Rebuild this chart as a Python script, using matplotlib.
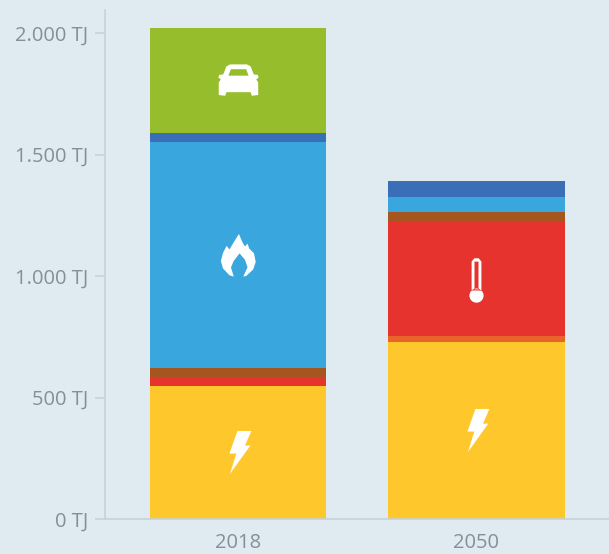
import numpy as np
import matplotlib
matplotlib.use('Agg')
import matplotlib.pyplot as plt
from matplotlib.path import Path
from matplotlib.ticker import FuncFormatter

years = ['2018', '2050']
strom = [547, 728]
uebergang = [0, 25]
waerme = [37, 469]
braun = [37, 41]
gas = [930, 62]
dunkelblau = [37, 66]
verkehr = [432, 0]

series = [strom, uebergang, waerme, braun, gas, dunkelblau, verkehr]
colors = ['#fec82c', '#e8642a', '#e6332e', '#a5561e', '#3aa6de', '#3a6fb8', '#95bd2c']

bg = '#dfeaf1'
text_col = '#848f98'
axis_col = '#c5d2dc'

plt.rcParams['font.family'] = 'Open Sans'


def circle(cx, cy, r, n=24, clockwise=False):
    t = np.linspace(0, 2 * np.pi, n)
    if clockwise:
        t = t[::-1]
    return list(zip(cx + r * np.cos(t), cy + r * np.sin(t)))


def make_path(polys):
    verts = []
    codes = []
    for p in polys:
        verts.extend(p)
        verts.append(p[0])
        codes.extend([Path.MOVETO] + [Path.LINETO] * (len(p) - 1) + [Path.CLOSEPOLY])
    return Path(verts, codes)


# icons, drawn as custom markers
bolt = make_path([[(-0.05, 1), (0.6, 1), (0.3, 0.32), (0.55, 0.32), (-0.4, -1),
                   (-0.1, -0.05), (-0.42, -0.05)]])

flame = make_path([[(0.02, 1), (0.18, 0.62), (0.3, 0.42), (0.42, 0.55), (0.5, 0.32), (0.72, 0.1),
                    (0.8, -0.3), (0.68, -0.65), (0.36, -0.95), (0.22, -0.98), (0.42, -0.55),
                    (0.3, -0.2), (0.05, 0.1), (-0.22, -0.25), (-0.35, -0.55), (-0.22, -0.98),
                    (-0.42, -0.92), (-0.72, -0.6), (-0.82, -0.25), (-0.72, 0.12), (-0.55, 0.45),
                    (-0.42, 0.28), (-0.22, 0.62)]])

car = make_path([
    [(-0.6, 0.7), (-0.42, 0.8), (0.42, 0.8), (0.6, 0.7), (0.76, 0.3), (0.96, 0.28), (1, 0.14), (0.88, 0.06),
     (0.98, -0.1), (0.98, -0.72), (0.66, -0.76), (0.6, -0.58), (-0.6, -0.58), (-0.66, -0.76),
     (-0.98, -0.72), (-0.98, -0.1), (-0.88, 0.06), (-1, 0.14), (-0.96, 0.28), (-0.76, 0.3)],
    [(-0.5, 0.24), (0.5, 0.24), (0.38, 0.56), (-0.38, 0.56)],
    circle(-0.62, -0.16, 0.15, clockwise=True),
    circle(0.62, -0.16, 0.15, clockwise=True),
])

thermo = make_path([
    circle(0, -0.68, 0.32),
    [(-0.22, -0.45), (-0.22, 0.85), (-0.1, 1), (0.1, 1), (0.22, 0.85), (0.22, -0.45)],
    [(-0.09, -0.4), (0.09, -0.4), (0.09, 0.85), (-0.09, 0.85)],
])

icon_x = [0, 0, 0, 1, 1]
icon_y = [276, 1085, 1805, 985, 366]
icon_paths = [bolt, flame, car, thermo, bolt]
icon_sizes = [31, 31, 29, 32, 31]

fig = plt.figure(figsize=(6.09, 5.54), dpi=100, facecolor=bg)
ax = fig.add_axes([105 / 609, 35 / 554, 504 / 609, 509 / 554], facecolor=bg)

x = np.arange(len(years))
bottom = np.zeros(len(years))
for values, color in zip(series, colors):
    ax.bar(x, values, width=0.74, bottom=bottom, color=color, linewidth=0)
    bottom += np.array(values)

for ix, iy, path, size in zip(icon_x, icon_y, icon_paths, icon_sizes):
    ax.plot([ix], [iy], marker=path, markersize=size, color='white', markeredgewidth=0, linestyle='none')

ax.set_xlim(-0.558, 1.556)
ax.set_ylim(0, 2095)
ax.set_xticks(x)
ax.set_xticklabels(years)
ax.set_yticks([0, 500, 1000, 1500, 2000])
ax.yaxis.set_major_formatter(FuncFormatter(lambda v, p: format(int(v), ',').replace(',', '.') + ' TJ'))

ax.spines['top'].set_visible(False)
ax.spines['right'].set_visible(False)
ax.spines['left'].set_color(axis_col)
ax.spines['bottom'].set_color(axis_col)
ax.spines['left'].set_linewidth(1.2)
ax.spines['bottom'].set_linewidth(1.2)
ax.tick_params(axis='y', length=7, width=1.2, color=axis_col, labelcolor=text_col, labelsize=14.5, pad=5)
ax.tick_params(axis='x', length=0, labelcolor=text_col, labelsize=14.5, pad=10)

fig.savefig('out.png', dpi=100, facecolor=bg)
